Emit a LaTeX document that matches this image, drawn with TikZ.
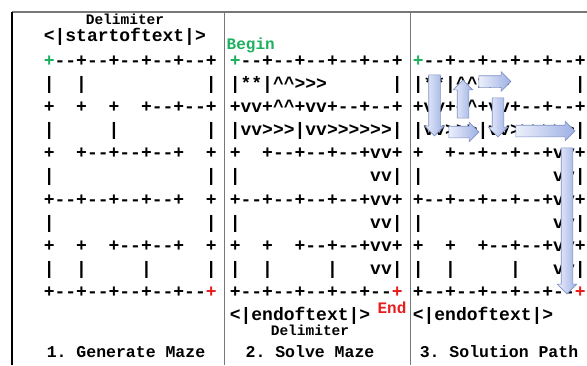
\documentclass[tikz,border=0pt]{standalone}
\usepackage{fontspec}
\setmonofont{Liberation Mono}
\usetikzlibrary{
  shapes.arrows,
}
\definecolor{startgreen}{RGB}{30,175,95}
\definecolor{endred}{RGB}{232,28,28}
\definecolor{arrowpale}{RGB}{236,240,251}
\definecolor{arrowblue}{RGB}{158,176,228}
\definecolor{arrowedge}{RGB}{128,146,198}
\definecolor{rulegray}{RGB}{120,120,120}
\newcommand{\crt}{\textasciicircum}
\tikzset{
  maze_row/.style={
    anchor=base west,
    inner sep=0pt,
    font=\ttfamily\bfseries\fontsize{18}{18}\selectfont
  },
  token/.style={
    inner sep=0pt,
    font=\ttfamily\bfseries\fontsize{18}{18}\selectfont
  },
  delim/.style={
    anchor=base,
    inner sep=0pt,
    font=\ttfamily\bfseries\fontsize{14.5}{14.5}\selectfont
  },
  endpoint/.style={
    inner sep=0pt,
    font=\ttfamily\bfseries\fontsize{16}{16}\selectfont
  },
  caption/.style={
    anchor=base,
    inner sep=0pt,
    font=\ttfamily\bfseries\fontsize{16.5}{16.5}\selectfont
  },
  path_arrow/.style={
    single arrow,
    draw=arrowedge,
    line width=0.6pt,
    left color=arrowpale,
    right color=arrowblue,
    inner xsep=0pt,
    inner ysep=5.5pt,
    minimum width=19pt,
    single arrow head extend=4pt,
  },
}

\begin{document}
% y runs downward, one unit per point
\begin{tikzpicture}[x=1pt, y=-1pt]
  \useasboundingbox (0,0) rectangle (587,365);

  % Frame and column rules
  \draw[rulegray, line width=1.3pt] (12,12) -- (587,12);
  \draw[black, line width=1.3pt] (12,12) -- (12,365);
  \draw[rulegray, line width=0.8pt] (224.5,12) -- (224.5,365);
  \draw[rulegray, line width=0.8pt] (410,12) -- (410,365);

  % Generated maze
  \node[delim] (delim_start) at (125,24.5) {Delimiter};
  \node[token, anchor=base west] (start_tok) at (43.6,41.5) {<|startoftext|>};
  \foreach \row [count=\i] in {
    {\textcolor{startgreen}{+}--+--+--+--+--+},
    {|~~|~~~~~~~~~~~|},
    {+~~+~~+~~+--+--+},
    {|~~~~~|~~~~~~~~|},
    {+~~+--+--+--+~~+},
    {|~~~~~~~~~~~~~~|},
    {+--+--+--+--+~~+},
    {|~~~~~~~~~~~~~~|},
    {+~~+~~+--+--+~~+},
    {|~~|~~~~~|~~~~~|},
    {+--+--+--+--+--\textcolor{endred}{+}}}
    \node[maze_row] (gen-\i) at (43.6,43.3+23.1*\i) {\row};

  % Solved maze, twice (second one gets the path arrows)
  \foreach \px/\pn in {229.6/solve, 412.6/sol} {
    \foreach \row [count=\i] in {
      {\textcolor{startgreen}{+}--+--+--+--+--+},
      {|**|\crt\crt>>>~~~~~~|},
      {+vv+\crt\crt+vv+--+--+},
      {|vv>>>|vv>>>>>>|},
      {+~~+--+--+--+vv+},
      {|~~~~~~~~~~~~vv|},
      {+--+--+--+--+vv+},
      {|~~~~~~~~~~~~vv|},
      {+~~+~~+--+--+vv+},
      {|~~|~~~~~|~~~vv|},
      {+--+--+--+--+--\textcolor{endred}{+}}}
      \node[maze_row] (\pn-\i) at (\px,43.3+23.1*\i) {\row};
    \node[token, anchor=base west] (end_tok_\pn) at (\px,320.5) {<|endoftext|>};
  }
  \node[endpoint, anchor=base west, text=startgreen] (begin) at (226.5,49) {Begin};
  \node[endpoint, anchor=base, text=endred] (end) at (392,313) {End};
  \node[delim] (delim_end) at (310,335.5) {Delimiter};

  % Solution path
  \node[path_arrow, minimum height=61pt, rotate=-90] (p1) at (434.5,102.5) {};
  \node[path_arrow, minimum height=30pt] (p2) at (461,132) {};
  \node[path_arrow, minimum height=38pt, rotate=90] (p3) at (463,102) {};
  \node[path_arrow, minimum height=32pt] (p4) at (492,81.5) {};
  \node[path_arrow, minimum height=39pt, rotate=-90] (p5) at (498,114.5) {};
  \node[path_arrow, minimum height=59pt] (p6) at (542.5,131) {};
  \node[path_arrow, minimum height=146pt, rotate=-90] (p7) at (567,218) {};

  % Step captions
  \node[caption] (cap1) at (126,357) {1. Generate Maze};
  \node[caption] (cap2) at (310,357) {2. Solve Maze};
  \node[caption] (cap3) at (499,357) {3. Solution Path};

\end{tikzpicture}
\end{document}
